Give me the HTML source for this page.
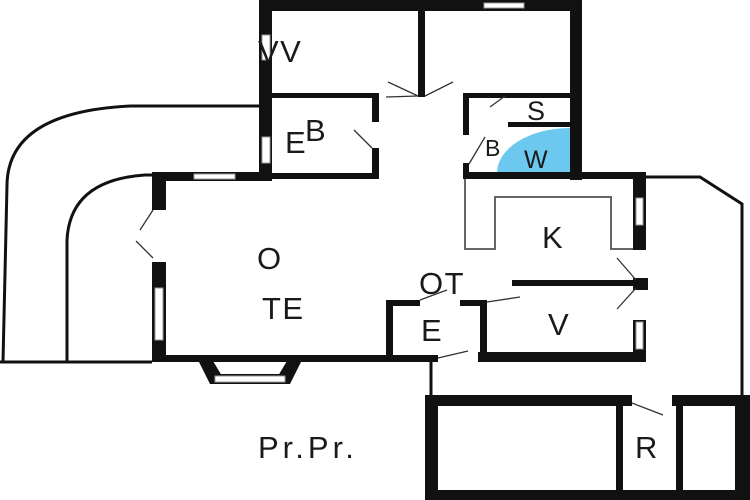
<!DOCTYPE html>
<html><head><style>
html,body{margin:0;padding:0;background:#fff;}
svg{display:block;}
text{font-family:"Liberation Sans",sans-serif;fill:#1a1a1a;}
</style></head><body>
<svg width="750" height="500" viewBox="0 0 750 500" xmlns="http://www.w3.org/2000/svg">
<rect width="750" height="500" fill="#fff"/>
<g fill="none" stroke="#111" stroke-width="3">
<path d="M259 106 L130 106 Q8 112 7 185 L3 362"/>
<path d="M152 175 L145 175 Q70 180 67 240 L67 362"/>
<line x1="0" y1="362" x2="152" y2="362"/>
<path d="M646 177 L700 177 L742 204 L742 396"/>
<line x1="431" y1="360" x2="431" y2="396"/>
</g>
<path d="M465 178 L465 249 L495 249 L495 197 L611 197 L611 249 L633 249" fill="none" stroke="#666" stroke-width="2"/>
<path d="M570 173 L570 128 A73 45 0 0 0 497 173 Z" fill="#6cc8ef"/>
<g fill="#111">
<rect x="259" y="0" width="323" height="11"/>
<rect x="259" y="0" width="13" height="180"/>
<rect x="570" y="0" width="12" height="180"/>
<rect x="418" y="10" width="7" height="87"/>
<rect x="272" y="93" width="107" height="5"/>
<rect x="372" y="93" width="7" height="29"/>
<rect x="372" y="148" width="7" height="30"/>
<rect x="272" y="173" width="107" height="6"/>
<rect x="463" y="93" width="107" height="5"/>
<rect x="463" y="93" width="6" height="42"/>
<rect x="463" y="163" width="6" height="15"/>
<rect x="508" y="122" width="62" height="5"/>
<rect x="463" y="172" width="183" height="7"/>
<rect x="152" y="172" width="120" height="9"/>
<rect x="152" y="172" width="14" height="190"/>
<rect x="152" y="355" width="286" height="7"/>
<rect x="478" y="352" width="168" height="10"/>
<rect x="633" y="172" width="13" height="190"/>
<rect x="512" y="280" width="128" height="6"/>
<rect x="636" y="278" width="12" height="12"/>
<rect x="386" y="300" width="34" height="6"/>
<rect x="460" y="300" width="27" height="6"/>
<rect x="386" y="300" width="7" height="60"/>
<rect x="480" y="300" width="7" height="60"/>
<polygon points="196,356 210,356 222,376 210,384"/>
<polygon points="304,356 290,356 278,376 290,384"/>
<rect x="210" y="374" width="80" height="10"/>
<rect x="425" y="395" width="207" height="11"/>
<rect x="672" y="395" width="78" height="11"/>
<rect x="425" y="395" width="13" height="105"/>
<rect x="616" y="400" width="7" height="100"/>
<rect x="676" y="400" width="7" height="100"/>
<rect x="735" y="395" width="15" height="105"/>
<rect x="425" y="490" width="325" height="10"/>
</g>
<g fill="#fff" stroke="#999" stroke-width="1">
<rect x="484" y="3" width="40" height="5"/>
<rect x="262" y="35" width="8" height="25"/>
<rect x="262" y="137" width="8" height="26"/>
<rect x="194" y="174" width="41" height="5"/>
<rect x="155" y="288" width="8" height="52"/>
<rect x="636" y="198" width="7" height="27"/>
<rect x="636" y="322" width="7" height="27"/>
<rect x="215" y="376" width="70" height="6"/>
</g>
<g fill="#fff">
<rect x="152" y="210" width="14" height="52"/>
<rect x="633" y="250" width="13" height="28"/>
<rect x="633" y="290" width="13" height="30"/>
<rect x="438" y="355" width="40" height="7"/>
<rect x="632" y="395" width="40" height="11"/>
</g>
<g stroke="#333" stroke-width="1.3" fill="none">
<line x1="386" y1="97" x2="418" y2="96"/>
<line x1="388" y1="82" x2="418" y2="96"/>
<line x1="453" y1="82" x2="425" y2="96"/>
<line x1="354" y1="130" x2="372" y2="148"/>
<line x1="490" y1="107" x2="505" y2="96"/>
<line x1="469" y1="164" x2="485" y2="137"/>
<line x1="140" y1="230" x2="153" y2="210"/>
<line x1="136" y1="241" x2="153" y2="258"/>
<line x1="617" y1="258" x2="636" y2="280"/>
<line x1="617" y1="309" x2="636" y2="288"/>
<line x1="420" y1="300" x2="447" y2="290"/>
<line x1="487" y1="302" x2="520" y2="297"/>
<line x1="438" y1="358" x2="468" y2="351"/>
<line x1="632" y1="403" x2="663" y2="415"/>
</g>
<g font-size="31" letter-spacing="1.5">
<text x="258" y="62">VV</text>
<text x="285" y="153">E</text>
<text x="305" y="141">B</text>
<text x="527" y="120" font-size="27">S</text>
<text x="485" y="156" font-size="23">B</text>
<text x="524" y="168" font-size="25">W</text>
<text x="542" y="248">K</text>
<text x="257" y="269">O</text>
<text x="262" y="319">TE</text>
<text x="419" y="294">OT</text>
<text x="421" y="341">E</text>
<text x="548" y="335">V</text>
<text x="258" y="458" letter-spacing="4">Pr.Pr.</text>
<text x="635" y="458">R</text>
</g>
</svg>
</body></html>
